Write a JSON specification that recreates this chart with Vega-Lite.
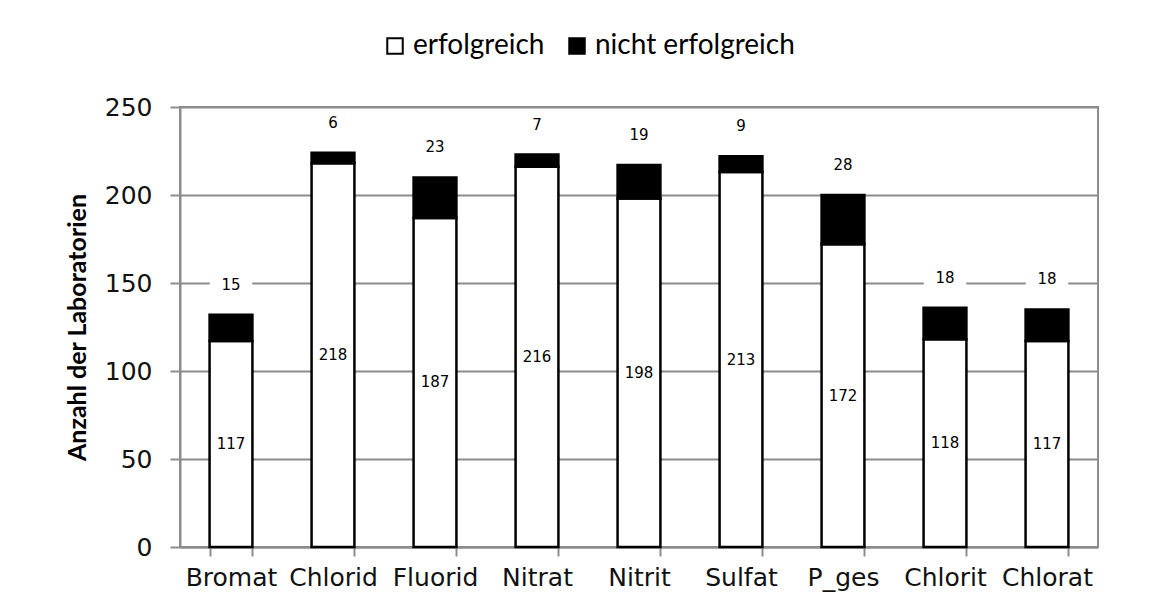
{
  "$schema": "https://vega.github.io/schema/vega-lite/v6.json",
  "autosize": "none",
  "width": 918,
  "height": 440,
  "padding": {"left": 180, "top": 107, "right": 78, "bottom": 65},
  "background": "white",
  "config": {
    "view": {"stroke": "#8c8c8c", "strokeWidth": 2},
    "axis": {"gridColor": "#8c8c8c", "gridWidth": 2, "domainColor": "#8c8c8c", "domainWidth": 2, "tickColor": "#8c8c8c", "tickWidth": 2, "labelColor": "#111", "labelFont": "DejaVu Sans"}
  },
  "data": {
    "values": [
      {"Stoff": "Bromat", "erfolgreich": 117, "nicht erfolgreich": 15},
      {"Stoff": "Chlorid", "erfolgreich": 218, "nicht erfolgreich": 6},
      {"Stoff": "Fluorid", "erfolgreich": 187, "nicht erfolgreich": 23},
      {"Stoff": "Nitrat", "erfolgreich": 216, "nicht erfolgreich": 7},
      {"Stoff": "Nitrit", "erfolgreich": 198, "nicht erfolgreich": 19},
      {"Stoff": "Sulfat", "erfolgreich": 213, "nicht erfolgreich": 9},
      {"Stoff": "P_ges", "erfolgreich": 172, "nicht erfolgreich": 28},
      {"Stoff": "Chlorit", "erfolgreich": 118, "nicht erfolgreich": 18},
      {"Stoff": "Chlorat", "erfolgreich": 117, "nicht erfolgreich": 18}
    ]
  },
  "encoding": {
    "x": {
      "field": "Stoff", "type": "nominal", "sort": null,
      "scale": {"paddingInner": 0.58, "paddingOuter": 0.29},
      "axis": {"title": null, "labelAngle": 0, "labelFontSize": 25, "labelPadding": 9, "tickBand": "extent", "tickSize": 9, "grid": false}
    },
    "y": {
      "field": "wert", "type": "quantitative",
      "scale": {"domain": [0, 250], "nice": false},
      "axis": {"title": "Anzahl der Laboratorien", "titleFont": "Lato", "titleFontSize": 25, "titleFontWeight": "bold", "titleColor": "black", "titlePadding": 14, "values": [0, 50, 100, 150, 200, 250], "labelFontSize": 25, "labelPadding": 18, "tickSize": 10, "labelOverlap": false}
    }
  },
  "layer": [
    {
      "transform": [
        {"fold": ["erfolgreich", "nicht erfolgreich"], "as": ["Status", "wert"]}
      ],
      "mark": {"type": "bar", "stroke": "black", "strokeWidth": 2.5},
      "encoding": {
        "fill": {
          "field": "Status", "type": "nominal",
          "scale": {"domain": ["erfolgreich", "nicht erfolgreich"], "range": ["white", "black"]},
          "legend": {"title": null, "orient": "none", "legendX": 201, "legendY": -75, "direction": "horizontal", "labelFont": "Lato", "labelFontSize": 28, "labelColor": "black", "labelLimit": 500, "symbolType": "square", "symbolSize": 240, "symbolStrokeColor": "black", "symbolStrokeWidth": 2, "columnPadding": 18, "labelOffset": 4}
        },
        "order": {"field": "Status", "type": "nominal"}
      }
    },
    {
      "transform": [
        {"calculate": "datum['erfolgreich'] / 2", "as": "wert"}
      ],
      "mark": {"type": "text", "font": "DejaVu Sans", "fontSize": 15, "color": "black", "baseline": "middle"},
      "encoding": {
        "text": {"field": "erfolgreich", "type": "quantitative"}
      }
    },
    {
      "transform": [
        {"calculate": "datum['erfolgreich'] + datum['nicht erfolgreich']", "as": "wert"}
      ],
      "mark": {"type": "point", "shape": "M-1,-0.5H1V0.5H-1Z", "size": 1800, "filled": true, "color": "white", "opacity": 1, "strokeWidth": 0, "yOffset": -30}
    },
    {
      "transform": [
        {"calculate": "datum['erfolgreich'] + datum['nicht erfolgreich']", "as": "wert"}
      ],
      "mark": {"type": "text", "font": "DejaVu Sans", "fontSize": 15, "color": "black", "baseline": "middle", "yOffset": -30},
      "encoding": {
        "text": {"field": "nicht erfolgreich", "type": "quantitative"}
      }
    }
  ]
}
